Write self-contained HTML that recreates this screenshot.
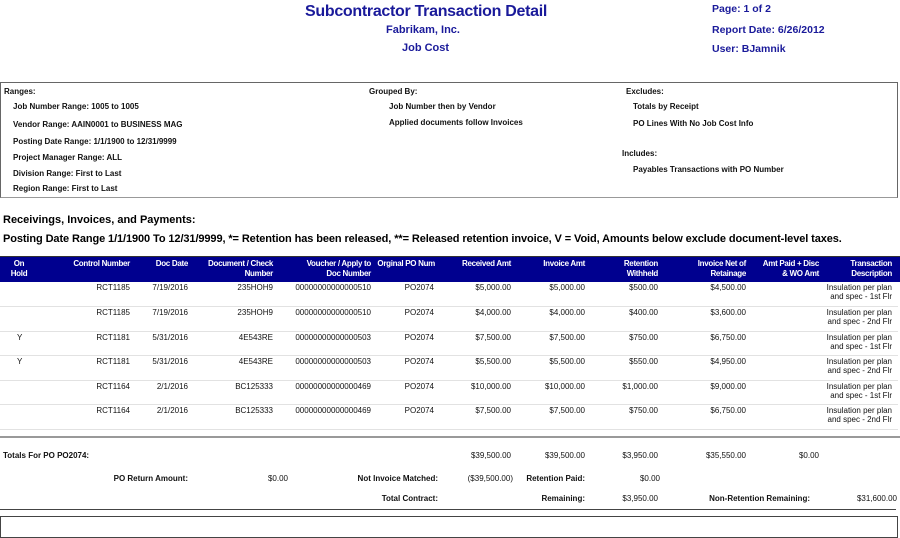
<!DOCTYPE html>
<html><head><meta charset="utf-8"><style>
body{margin:0;width:900px;height:526px;background:#fff;position:relative;overflow:hidden;font-family:"Liberation Sans",sans-serif;}
.a{position:absolute;white-space:nowrap;}
.t{color:#1a1a9a;font-weight:bold;}
.s{font-size:8px;color:#111;}
.b{font-weight:bold;}
.r{text-align:right;}
.hd{position:absolute;color:#fff;font-size:8px;font-weight:bold;text-align:right;line-height:10px;white-space:nowrap;letter-spacing:-0.3px;}
.d{position:absolute;font-size:8px;color:#111;text-align:right;white-space:nowrap;line-height:9px;}
.ln{position:absolute;left:0;width:898px;height:1px;background:#e2e2e2;}
</style></head><body>
<div class="a t" style="left:305px;top:3px;font-size:16px;letter-spacing:-0.3px;">Subcontractor Transaction Detail</div>
<div class="a t" style="left:386px;top:24px;font-size:11px;">Fabrikam, Inc.</div>
<div class="a t" style="left:402px;top:42px;font-size:11px;">Job Cost</div>
<div class="a t" style="left:712px;top:3px;font-size:10.5px;">Page: 1 of 2</div>
<div class="a t" style="left:712px;top:24px;font-size:10.5px;">Report Date: 6/26/2012</div>
<div class="a t" style="left:712px;top:43px;font-size:10.5px;">User: BJamnik</div>

<div class="a" style="left:0;top:82px;width:896px;height:114px;border:1px solid #666;border-bottom-color:#999;"></div>
<div class="a s b" style="left:4px;top:87px;">Ranges:</div>
<div class="a s b" style="left:13px;top:102px;">Job Number Range: 1005 to 1005</div>
<div class="a s b" style="left:13px;top:120px;">Vendor Range: AAIN0001 to BUSINESS MAG</div>
<div class="a s b" style="left:13px;top:137px;">Posting Date Range: 1/1/1900 to 12/31/9999</div>
<div class="a s b" style="left:13px;top:153px;">Project Manager Range: ALL</div>
<div class="a s b" style="left:13px;top:169px;">Division Range: First to Last</div>
<div class="a s b" style="left:13px;top:184px;">Region Range: First to Last</div>
<div class="a s b" style="left:369px;top:87px;">Grouped By:</div>
<div class="a s b" style="left:389px;top:102px;">Job Number then by Vendor</div>
<div class="a s b" style="left:389px;top:118px;">Applied documents follow Invoices</div>
<div class="a s b" style="left:626px;top:87px;">Excludes:</div>
<div class="a s b" style="left:633px;top:102px;">Totals by Receipt</div>
<div class="a s b" style="left:633px;top:119px;">PO Lines With No Job Cost Info</div>
<div class="a s b" style="left:622px;top:149px;">Includes:</div>
<div class="a s b" style="left:633px;top:165px;">Payables Transactions with PO Number</div>

<div class="a b" style="left:3px;top:214px;font-size:11px;">Receivings, Invoices, and Payments:</div>
<div class="a b" style="left:3px;top:233px;font-size:11px;letter-spacing:-0.1px;">Posting Date Range 1/1/1900 To 12/31/9999, *= Retention has been released, **= Released retention invoice, V = Void, Amounts below exclude document-level taxes.</div>

<div class="a" style="left:0;top:256px;width:900px;height:25px;background:#00008f;border-top:1px solid #333;"></div>
<div class="hd" style="left:8px;top:259px;text-align:center;width:22px;">On<br>Hold</div>
<div class="hd" style="right:770px;top:259px;">Control Number</div>
<div class="hd" style="right:712px;top:259px;">Doc Date</div>
<div class="hd" style="right:627px;top:259px;">Document / Check<br>Number</div>
<div class="hd" style="right:529px;top:259px;">Voucher / Apply to<br>Doc Number</div>
<div class="hd" style="right:465px;top:259px;">Orginal PO Num</div>
<div class="hd" style="right:389px;top:259px;">Received Amt</div>
<div class="hd" style="right:315px;top:259px;">Invoice Amt</div>
<div class="hd" style="right:242px;top:259px;">Retention<br>Withheld</div>
<div class="hd" style="right:154px;top:259px;">Invoice Net of<br>Retainage</div>
<div class="hd" style="right:81px;top:259px;">Amt Paid + Disc<br>&amp; WO Amt</div>
<div class="hd" style="right:8px;top:259px;">Transaction<br>Description</div>

<div class="d" style="right:770px;top:283px;">RCT1185</div><div class="d" style="right:712px;top:283px;">7/19/2016</div><div class="d" style="right:627px;top:283px;">235HOH9</div><div class="d" style="right:529px;top:283px;">00000000000000510</div><div class="d" style="right:466px;top:283px;">PO2074</div><div class="d" style="right:389px;top:283px;">$5,000.00</div><div class="d" style="right:315px;top:283px;">$5,000.00</div><div class="d" style="right:242px;top:283px;">$500.00</div><div class="d" style="right:154px;top:283px;">$4,500.00</div><div class="d" style="right:8px;top:283px;">Insulation per plan<br>and spec - 1st Flr</div>
<div class="ln" style="top:306px;"></div>
<div class="d" style="right:770px;top:308px;">RCT1185</div><div class="d" style="right:712px;top:308px;">7/19/2016</div><div class="d" style="right:627px;top:308px;">235HOH9</div><div class="d" style="right:529px;top:308px;">00000000000000510</div><div class="d" style="right:466px;top:308px;">PO2074</div><div class="d" style="right:389px;top:308px;">$4,000.00</div><div class="d" style="right:315px;top:308px;">$4,000.00</div><div class="d" style="right:242px;top:308px;">$400.00</div><div class="d" style="right:154px;top:308px;">$3,600.00</div><div class="d" style="right:8px;top:308px;">Insulation per plan<br>and spec - 2nd Flr</div>
<div class="ln" style="top:331px;"></div>
<div class="d" style="left:17px;top:333px;">Y</div><div class="d" style="right:770px;top:333px;">RCT1181</div><div class="d" style="right:712px;top:333px;">5/31/2016</div><div class="d" style="right:627px;top:333px;">4E543RE</div><div class="d" style="right:529px;top:333px;">00000000000000503</div><div class="d" style="right:466px;top:333px;">PO2074</div><div class="d" style="right:389px;top:333px;">$7,500.00</div><div class="d" style="right:315px;top:333px;">$7,500.00</div><div class="d" style="right:242px;top:333px;">$750.00</div><div class="d" style="right:154px;top:333px;">$6,750.00</div><div class="d" style="right:8px;top:333px;">Insulation per plan<br>and spec - 1st Flr</div>
<div class="ln" style="top:355px;"></div>
<div class="d" style="left:17px;top:357px;">Y</div><div class="d" style="right:770px;top:357px;">RCT1181</div><div class="d" style="right:712px;top:357px;">5/31/2016</div><div class="d" style="right:627px;top:357px;">4E543RE</div><div class="d" style="right:529px;top:357px;">00000000000000503</div><div class="d" style="right:466px;top:357px;">PO2074</div><div class="d" style="right:389px;top:357px;">$5,500.00</div><div class="d" style="right:315px;top:357px;">$5,500.00</div><div class="d" style="right:242px;top:357px;">$550.00</div><div class="d" style="right:154px;top:357px;">$4,950.00</div><div class="d" style="right:8px;top:357px;">Insulation per plan<br>and spec - 2nd Flr</div>
<div class="ln" style="top:380px;"></div>
<div class="d" style="right:770px;top:382px;">RCT1164</div><div class="d" style="right:712px;top:382px;">2/1/2016</div><div class="d" style="right:627px;top:382px;">BC125333</div><div class="d" style="right:529px;top:382px;">00000000000000469</div><div class="d" style="right:466px;top:382px;">PO2074</div><div class="d" style="right:389px;top:382px;">$10,000.00</div><div class="d" style="right:315px;top:382px;">$10,000.00</div><div class="d" style="right:242px;top:382px;">$1,000.00</div><div class="d" style="right:154px;top:382px;">$9,000.00</div><div class="d" style="right:8px;top:382px;">Insulation per plan<br>and spec - 1st Flr</div>
<div class="ln" style="top:404px;"></div>
<div class="d" style="right:770px;top:406px;">RCT1164</div><div class="d" style="right:712px;top:406px;">2/1/2016</div><div class="d" style="right:627px;top:406px;">BC125333</div><div class="d" style="right:529px;top:406px;">00000000000000469</div><div class="d" style="right:466px;top:406px;">PO2074</div><div class="d" style="right:389px;top:406px;">$7,500.00</div><div class="d" style="right:315px;top:406px;">$7,500.00</div><div class="d" style="right:242px;top:406px;">$750.00</div><div class="d" style="right:154px;top:406px;">$6,750.00</div><div class="d" style="right:8px;top:406px;">Insulation per plan<br>and spec - 2nd Flr</div>
<div class="ln" style="top:429px;"></div>

<div class="a" style="left:0;top:436px;width:900px;height:2px;background:#999;"></div>
<div class="a s b" style="left:3px;top:451px;">Totals For PO PO2074:</div>
<div class="d" style="right:389px;top:451px;">$39,500.00</div><div class="d" style="right:315px;top:451px;">$39,500.00</div><div class="d" style="right:242px;top:451px;">$3,950.00</div><div class="d" style="right:154px;top:451px;">$35,550.00</div><div class="d" style="right:81px;top:451px;">$0.00</div>
<div class="d b" style="right:712px;top:474px;">PO Return Amount:</div>
<div class="d" style="right:612px;top:474px;">$0.00</div>
<div class="d b" style="right:462px;top:474px;">Not Invoice Matched:</div>
<div class="d" style="right:387px;top:474px;">($39,500.00)</div>
<div class="d b" style="right:315px;top:474px;">Retention Paid:</div>
<div class="d" style="right:240px;top:474px;">$0.00</div>
<div class="d b" style="right:462px;top:494px;">Total Contract:</div>
<div class="d b" style="right:315px;top:494px;">Remaining:</div>
<div class="d" style="right:242px;top:494px;">$3,950.00</div>
<div class="d b" style="right:90px;top:494px;">Non-Retention Remaining:</div>
<div class="d" style="right:3px;top:494px;">$31,600.00</div>
<div class="a" style="left:0;top:509px;width:896px;height:1px;background:#444;"></div>
<div class="a" style="left:0;top:516px;width:896px;height:20px;border:1px solid #444;"></div>
</body></html>
